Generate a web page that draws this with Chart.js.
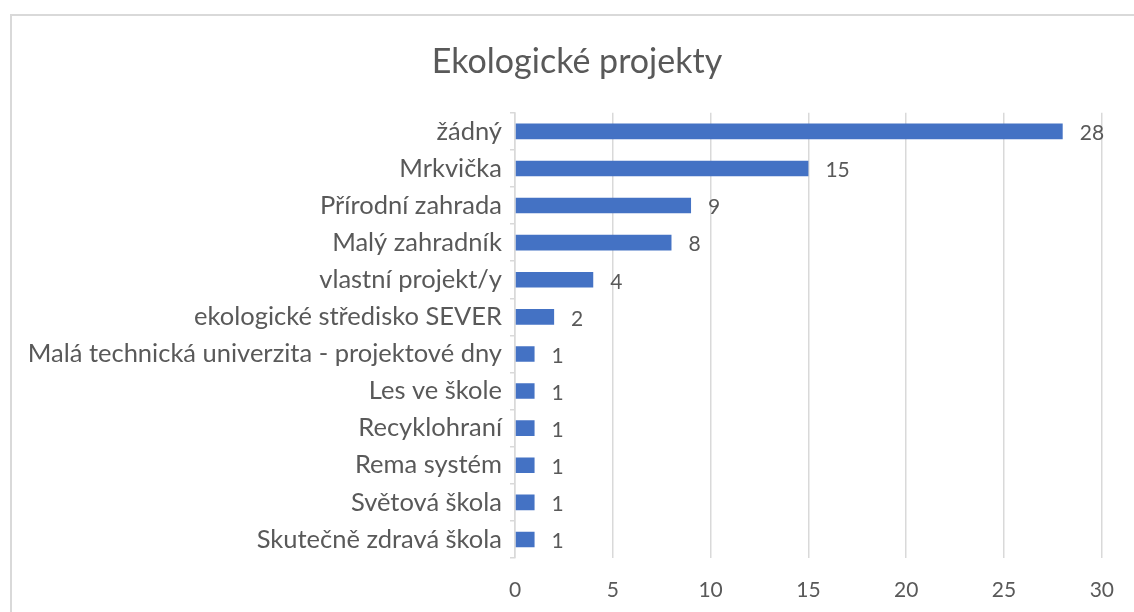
<!DOCTYPE html>
<html>
<head>
<meta charset="utf-8">
<script src="https://cdn.jsdelivr.net/npm/chart.js@4/dist/chart.umd.min.js"></script>
<style>
  html, body { margin: 0; padding: 0; background: #fff; overflow: hidden; }
  #frame { position: absolute; left: 10px; top: 14px; width: 1200px; height: 700px; border: 2px solid #d9d9d9; box-sizing: border-box; }
  #wrap { position: absolute; left: 0; top: 0; width: 1134px; height: 612px; }
</style>
</head>
<body>
<div id="frame"></div>
<div id="wrap"><canvas id="graf"></canvas></div>
<script>
const projekty = [
    'žádný',
    'Mrkvička',
    'Přírodní zahrada',
    'Malý zahradník',
    'vlastní projekt/y',
    'ekologické středisko SEVER',
    'Malá technická univerzita - projektové dny',
    'Les ve škole',
    'Recyklohraní',
    'Rema systém',
    'Světová škola',
    'Skutečně zdravá škola'
]
const pocty = [28, 15, 9, 8, 4, 2, 1, 1, 1, 1, 1, 1]
const osa_x = [0, 5, 10, 15, 20, 25, 30]

const modra = '#4472C4'
const seda_text = '#595959'
const seda_mrizka = '#D9D9D9'
const pismo = 'Lato'

// popisky hodnot vpravo od sloupcu
const popisky = {
    id: 'popisky',
    afterLayout(chart) {
        // nadpis je vycentrovany na ramecek grafu, ne na levy okraj platna
        chart.titleBlock.left = 51
    },
    afterDatasetsDraw(chart) {
        const ctx = chart.ctx
        const meta = chart.getDatasetMeta(0)
        ctx.save()
        ctx.fillStyle = seda_text
        ctx.font = '21px ' + pismo
        ctx.textAlign = 'left'
        ctx.textBaseline = 'middle'
        meta.data.forEach((bar, i) => {
            ctx.fillText(String(pocty[i]), bar.x + 17, bar.y + 2)
        })
        ctx.restore()
    }
}

const data = {
    labels: projekty,
    datasets: [
        {
            label: 'Ekologické projekty',
            data: pocty,
            backgroundColor: modra,
            borderWidth: 0,
            barPercentage: 0.42,
            categoryPercentage: 1
        }
    ]
}

const config = {
    type: 'bar',
    data: data,
    options: {
        indexAxis: 'y',
        responsive: true,
        maintainAspectRatio: false,
        animation: false,
        layout: { padding: { left: 0, right: 31, top: 0, bottom: 0 } },
        plugins: {
            legend: { display: false },
            tooltip: { enabled: false },
            title: {
                display: true,
                text: 'Ekologické projekty',
                color: seda_text,
                font: { family: pismo, size: 34, weight: 'normal', lineHeight: 1.2 },
                padding: { top: 42, bottom: 30 }
            }
        },
        scales: {
            x: {
                min: 0,
                max: 30,
                afterBuildTicks(axis) { axis.ticks = osa_x.map(v => ({ value: v })) },
                afterFit(axis) { axis.height = 54 },
                grid: { color: seda_mrizka, lineWidth: 1.5, drawTicks: false },
                border: { display: false },
                ticks: { color: seda_text, font: { family: pismo, size: 21 }, padding: 20 }
            },
            y: {
                afterFit(axis) { axis.width = 515 },
                grid: { drawOnChartArea: false, drawTicks: true, tickLength: 5, color: seda_mrizka, lineWidth: 1.5 },
                border: { display: true, color: seda_mrizka, width: 1.5 },
                ticks: { color: seda_text, font: { family: pismo, size: 25.5 }, padding: 8 }
            }
        }
    },
    plugins: [popisky]
}

const graf = new Chart(document.querySelector('#graf'), config)
</script>
</body>
</html>
